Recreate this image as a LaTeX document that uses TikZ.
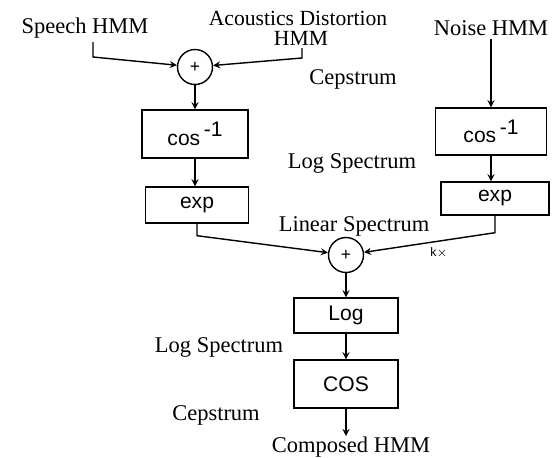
\documentclass[tikz,border=0pt]{standalone}
\usepackage{fontspec}
\setmainfont{Liberation Serif}
\setsansfont{Liberation Sans}
\usetikzlibrary{positioning}

\begin{document}
\begin{tikzpicture}[x=0.02cm,y=-0.02cm,>=stealth,
  lbl/.style={anchor=base,inner sep=0pt,font=\fontsize{12.8}{13}\selectfont},
  blk/.style={draw,thick,inner sep=0pt,font=\sffamily\fontsize{12}{14}\selectfont},
  sum/.style={draw,thick,circle,minimum size=0.7cm,inner sep=0pt,font=\sffamily\normalsize}]

\useasboundingbox (0,0) rectangle (553,457);

% --- Inputs ---
\node[lbl] (speech) at (85,33) {Speech HMM};
\node[lbl,font=\fontsize{12.3}{13}\selectfont] (acous) at (298,25) {Acoustics Distortion};
\node[lbl,font=\fontsize{12.3}{13}\selectfont] (acousb) at (301,45) {HMM};
\node[lbl] (noise) at (491,35) {Noise HMM};
\coordinate (sp) at (93,42);
\coordinate (ad) at (302,48);

% --- Left Column ---
\node[sum] (addA) at (195,67) {+};
\node[blk,minimum width=2.12cm,minimum height=0.96cm] (icosL) at (195,134) {cos\raisebox{0.75ex}{\,-1}};
\node[blk,minimum width=2.06cm,minimum height=0.72cm] (expL) at (197,205) {exp};

% --- Right Column ---
\node[blk,minimum width=2.22cm,minimum height=0.94cm] (icosR) at (491,131.5) {cos\raisebox{0.75ex}{\,-1}};
\node[blk,minimum width=2.16cm,minimum height=0.66cm] (expR) at (495,198.5) {exp};

% --- Output Column ---
\node[sum] (addB) at (346,255) {+};
\node[blk,minimum width=2.08cm,minimum height=0.70cm] (logb) at (346,315.5) {Log};
\node[blk,minimum width=2.08cm,minimum height=0.96cm] (cosb) at (346,384) {COS};
\node[lbl] (comp) at (351,452) {Composed HMM};

% --- Domain labels ---
\node[lbl] (cepA) at (353,84) {Cepstrum};
\node[lbl] (lspA) at (352,168) {Log Spectrum};
\node[lbl] (lin) at (354,231) {Linear Spectrum};
\node[anchor=base,inner sep=0pt,font=\sffamily\scriptsize] (kx) at (439,256) {k$\times$};
\node[lbl] (lspB) at (219,352) {Log Spectrum};
\node[lbl] (cepB) at (216,420) {Cepstrum};

% --- Connectors ---
\draw[thick,->] (sp) -- ++(0,15) -- (addA);
\draw[thick,->] (ad) -- ++(0,10) -- (addA);
\draw[thick,->] (addA) -- (icosL);
\draw[thick,->] (icosL) -- (icosL |- expL.north);
\draw[thick,->,shorten <=2pt] (noise) -- (icosR);
\draw[thick,->] (icosR) -- (icosR |- expR.north);
\draw[thick,->] (expL.south) -- ++(0,12) -- (addB);
\draw[thick,->] (expR.south) -- ++(0,17) -- (addB);
\draw[thick,->] (addB) -- (logb);
\draw[thick,->] (logb) -- (cosb);
\draw[thick,->] (cosb) -- (cosb |- comp.north);

\end{tikzpicture}
\end{document}
